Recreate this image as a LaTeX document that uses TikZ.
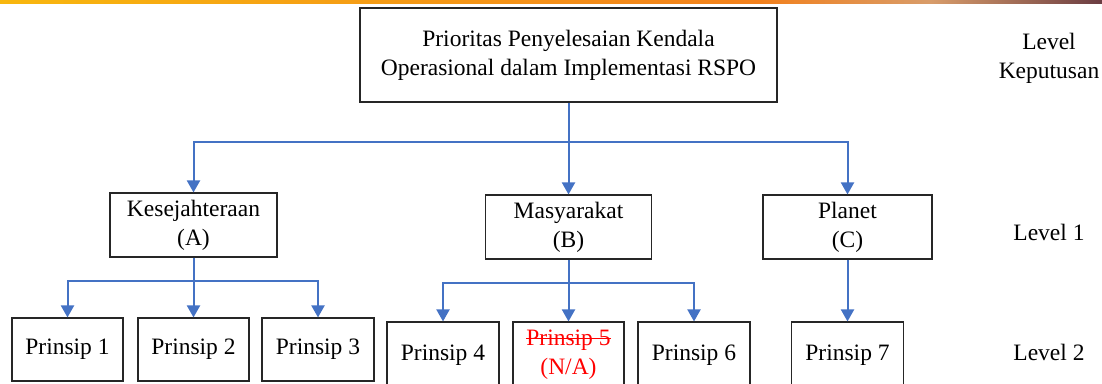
\documentclass[tikz,border=0pt]{standalone}
\usepackage{fontspec}
\setmainfont{Liberation Serif}
\usepackage{xcolor}
\usetikzlibrary{arrows.meta}
\newlength{\strikelen}
\newcommand{\strikeout}[1]{\settowidth{\strikelen}{#1}\rlap{\rule[0.28em]{\strikelen}{1.3pt}}#1}
\definecolor{linkblue}{HTML}{4472C4}
\definecolor{barA}{HTML}{F8B70E}
\definecolor{barB}{HTML}{F2801C}
\definecolor{barC}{HTML}{D89C6A}
\definecolor{barD}{HTML}{6A3C42}

\begin{document}
\begin{tikzpicture}[x=1pt, y=-1pt,
	box/.style={draw=black!85, line width=1.1pt, rectangle, align=center, inner sep=0pt,
		font=\fontsize{23.5}{29}\selectfont},
	link/.style={draw=linkblue, line width=2pt, -{Triangle[width=13pt,length=12pt]}},
	lvl/.style={align=center, font=\fontsize{23.5}{29}\selectfont}]
				\clip (0,0) rectangle (1102,383);
				%\draw[help lines] (0,0) grid (1102,383);
				\shade[left color=barA, right color=barB] (0,0) rectangle (760,3.5);
				\shade[left color=barB, right color=barD, middle color=barC] (760,0) rectangle (1102,3.5);
				
				% decision level
				\node[box, minimum width=417pt, minimum height=94pt] (goal) at (568.5,55)
					{Prioritas Penyelesaian Kendala\\Operasional dalam Implementasi RSPO};
				
				% level 1
				\node[box, minimum width=167pt, minimum height=64pt] (A) at (193.5,225) {Kesejahteraan\\(A)};
				\node[box, minimum width=166pt, minimum height=64pt] (B) at (568.5,227) {Masyarakat\\(B)};
				\node[box, minimum width=169pt, minimum height=64pt] (C) at (847.5,227) {Planet\\(C)};
				
				% level 2
				\node[box, minimum width=111pt, minimum height=63pt] (P1) at (67.5,349.5) {Prinsip 1};
				\node[box, minimum width=111pt, minimum height=63pt] (P2) at (193.5,349.5) {Prinsip 2};
				\node[box, minimum width=112pt, minimum height=63pt] (P3) at (318,349.5) {Prinsip 3};
				\node[box, minimum width=112pt, minimum height=66pt] (P4) at (443,355) {Prinsip 4};
				\node[box, minimum width=111pt, minimum height=66pt, text=red] (P5) at (568.5,355)
					{\strikeout{Prinsip 5}\\(N/A)};
				\node[box, minimum width=112pt, minimum height=66pt] (P6) at (694,355) {Prinsip 6};
				\node[box, minimum width=112pt, minimum height=66pt] (P7) at (847.5,355) {Prinsip 7};
				
				% level labels
				\node[lvl] (lvl0) at (1049,58) {Level\\Keputusan};
				\node[lvl] (lvl1) at (1049,232) {Level 1};
				\node[lvl] (lvl2) at (1049,352) {Level 2};
				
				\coordinate (bus0) at (568.5,142);
				\coordinate (busA) at (193.5,281);
				\coordinate (busB) at (568.5,283);
				
				\draw[link] (goal.south) -- (B.north);
				\draw[link] (bus0) -| (A.north);
				\draw[link] (bus0) -| (C.north);
				
				\draw[link] (A.south) -- (P2.north);
				\draw[link] (busA) -| (P1.north);
				\draw[link] (busA) -| (P3.north);
				
				\draw[link] (B.south) -- (P5.north);
				\draw[link] (busB) -| (P4.north);
				\draw[link] (busB) -| (P6.north);
				
				\draw[link] (C.south) -- (P7.north);
\end{tikzpicture}
\end{document}
